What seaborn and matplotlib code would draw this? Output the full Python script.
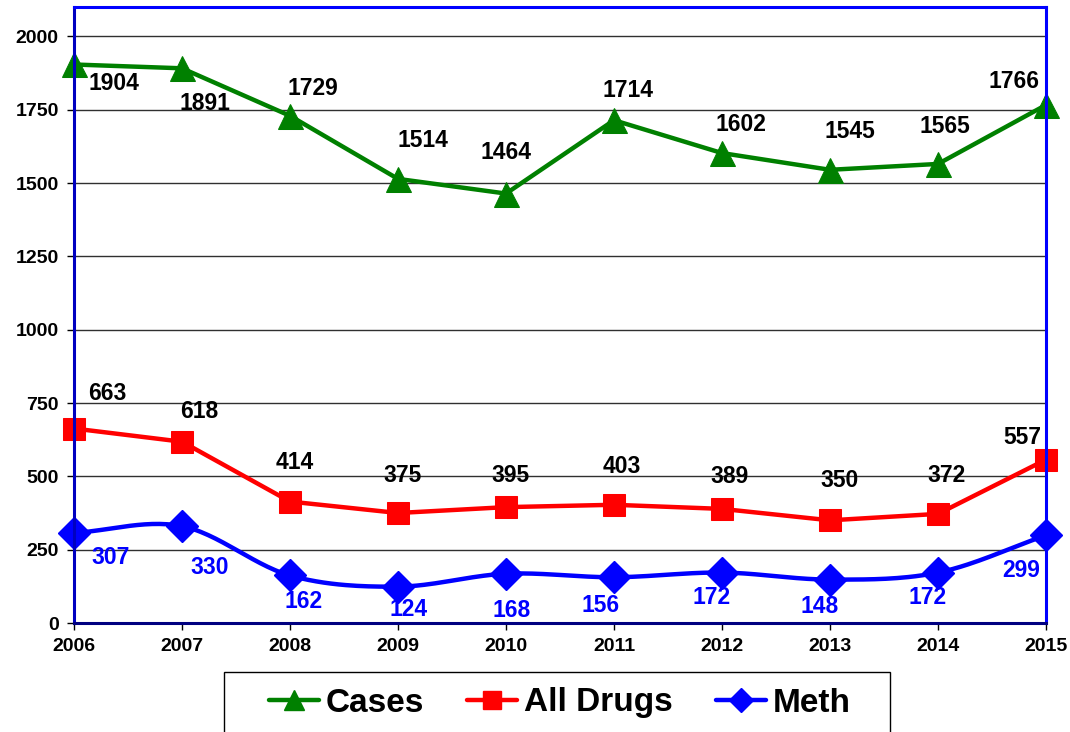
import numpy as np
import pandas as pd
import seaborn as sns
import matplotlib.pyplot as plt
from matplotlib.lines import Line2D
from matplotlib.patches import Rectangle

years = [2006, 2007, 2008, 2009, 2010, 2011, 2012, 2013, 2014, 2015]
cases = [1904, 1891, 1729, 1514, 1464, 1714, 1602, 1545, 1565, 1766]
all_drugs = [663, 618, 414, 375, 395, 403, 389, 350, 372, 557]
meth = [307, 330, 162, 124, 168, 156, 172, 148, 172, 299]

# label offsets in pixels (dx right, dy up)
cases_off = [(40, -19), (23, -35), (23, 27), (25, 38), (0, 41),
             (14, 30), (19, 29), (20, 38), (7, 37), (-32, 23)]
drugs_off = [(33, 35), (17, 30), (5, 39), (5, 37), (4, 32),
             (8, 38), (8, 32), (10, 40), (9, 38), (-24, 22)]
meth_off = [(37, -25), (28, -41), (14, -26), (11, -23), (6, -37),
            (-13, -28), (-10, -25), (-10, -27), (-10, -25), (-25, -35)]

sns.set_style("white")
plt.rcParams['font.family'] = ['Liberation Sans', 'DejaVu Sans']
plt.rcParams['font.weight'] = 'bold'
plt.rcParams['text.color'] = 'black'
plt.rcParams['xtick.color'] = 'black'
plt.rcParams['ytick.color'] = 'black'

GREEN, RED, BLUE = '#008000', '#FF0000', '#0000FF'

fig = plt.figure(figsize=(10.7, 7.32), dpi=100)
ax = fig.add_axes([74 / 1070, 1 - 623 / 732, (1046 - 74) / 1070, (623 - 7) / 732])

df = pd.DataFrame({"Year": years, "Cases": cases, "All Drugs": all_drugs, "Meth": meth})

# grid behind
for v in range(250, 2001, 250):
    ax.axhline(v, color='#303030', lw=1, zorder=0)

sns.lineplot(data=df, x="Year", y="Cases", color=GREEN, lw=3.2, marker='^',
             markersize=18, markeredgecolor=GREEN, ax=ax, zorder=3)
sns.lineplot(data=df, x="Year", y="All Drugs", color=RED, lw=3.2, marker='s',
             markersize=16, markeredgecolor=RED, ax=ax, zorder=3)

# smoothed line for Meth (Catmull-Rom through the data points)
px = np.array(years, dtype=float)
py = np.array(meth, dtype=float)
ext_x = np.concatenate([[2 * px[0] - px[1]], px, [2 * px[-1] - px[-2]]])
ext_y = np.concatenate([[2 * py[0] - py[1]], py, [2 * py[-1] - py[-2]]])
sx, sy = [], []
t = np.linspace(0, 1, 30)
for i in range(1, len(ext_x) - 2):
    for arr, out in ((ext_x, sx), (ext_y, sy)):
        p0, p1, p2, p3 = arr[i - 1], arr[i], arr[i + 1], arr[i + 2]
        out.extend(0.5 * ((2 * p1) + (-p0 + p2) * t
                          + (2 * p0 - 5 * p1 + 4 * p2 - p3) * t ** 2
                          + (-p0 + 3 * p1 - 3 * p2 + p3) * t ** 3))
smooth = pd.DataFrame({"x": sx, "y": sy})
sns.lineplot(data=smooth, x="x", y="y", color=BLUE, lw=3.2, ax=ax, zorder=3,
             sort=False, estimator=None)
ax.plot(years, meth, linestyle='none', marker='D', markersize=16,
        color=BLUE, zorder=4)

for ln in ax.lines:
    ln.set_clip_on(False)

for series, offs, col in ((cases, cases_off, 'black'),
                          (all_drugs, drugs_off, 'black'),
                          (meth, meth_off, BLUE)):
    for x, y, (dx, dy) in zip(years, series, offs):
        ax.annotate(str(y), (x, y), xytext=(dx, dy), textcoords='offset pixels',
                    ha='center', va='center', fontsize=16.5, fontweight='bold',
                    color=col, annotation_clip=False, zorder=5)

ax.set_xlim(2006, 2015)
ax.set_ylim(0, 2100)
ax.set_xticks(years)
ax.set_yticks(range(0, 2001, 250))
ax.set_xlabel("")
ax.set_ylabel("")
ax.tick_params(axis='both', labelsize=14, direction='out', length=5,
               width=1, color='black', labelcolor='black', left=True,
               bottom=True, pad=6)
for lab in ax.get_xticklabels() + ax.get_yticklabels():
    lab.set_fontweight('bold')

ax.spines['left'].set_color('#0000C0')
ax.spines['bottom'].set_color('#000080')
ax.spines['top'].set_color(BLUE)
ax.spines['right'].set_color(BLUE)
for s in ax.spines.values():
    s.set_linewidth(2.2)
    s.set_zorder(6)

# legend box (runs off the bottom of the figure)
fig.patches.append(Rectangle((224 / 1070, -0.05), (890 - 224) / 1070,
                             (732 - 672) / 732 + 0.05, transform=fig.transFigure,
                             facecolor='white', edgecolor='black', lw=1))

handles = [
    Line2D([], [], color=GREEN, lw=3.2, marker='^', markersize=14),
    Line2D([], [], color=RED, lw=3.2, marker='s', markersize=13),
    Line2D([], [], color=BLUE, lw=3.2, marker='D', markersize=12),
]
leg = fig.legend(handles, ["Cases", "All Drugs", "Meth"], ncol=3,
                 loc='center', bbox_to_anchor=(560 / 1070, 1 - 703 / 732),
                 prop={'size': 24, 'weight': 'bold'}, frameon=False,
                 handlelength=1.5, handletextpad=0.2, columnspacing=1.3,
                 borderpad=0, borderaxespad=0, labelcolor='black')

fig.savefig("out.png", dpi=100)
